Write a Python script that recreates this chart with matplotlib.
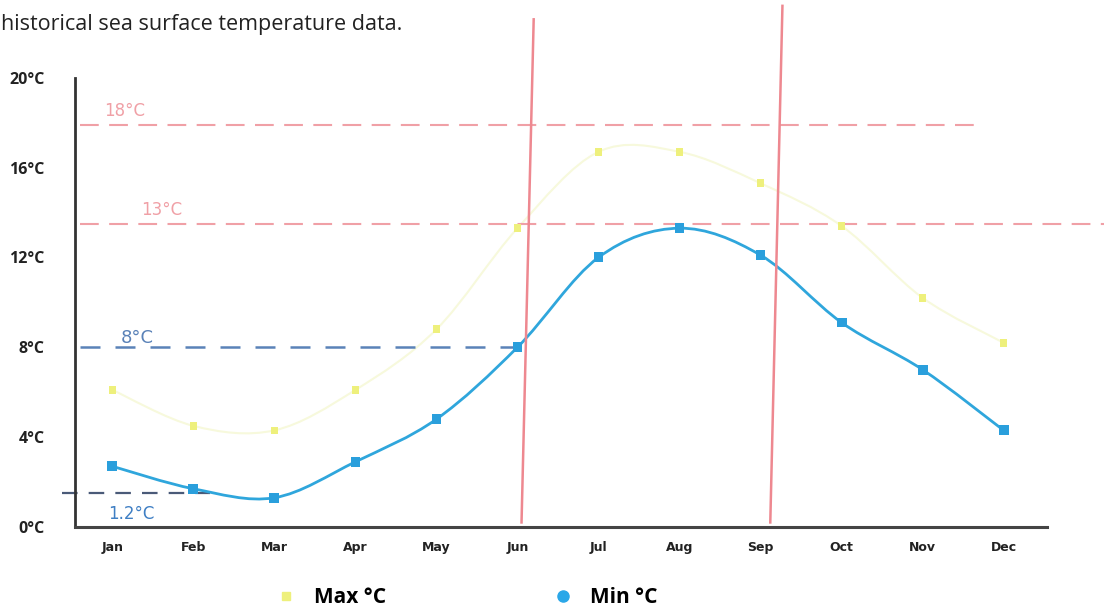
import numpy as np
import matplotlib
matplotlib.use("Agg")
import matplotlib.pyplot as plt
from matplotlib.path import Path
from matplotlib.patches import PathPatch
from matplotlib.lines import Line2D

# --- DATA ---
months = ["Jan", "Feb", "Mar", "Apr", "May", "Jun", "Jul", "Aug", "Sep", "Oct", "Nov", "Dec"]
max_temp = [6.1, 4.5, 4.3, 6.1, 8.8, 13.3, 16.7, 16.7, 15.3, 13.4, 10.2, 8.2]
min_temp = [2.7, 1.7, 1.3, 2.9, 4.8, 8.0, 12.0, 13.3, 12.1, 9.1, 7.0, 4.3]
y_ticks = [0, 4, 8, 12, 16, 20]
y_tick_labels = ["0°C", "4°C", "8°C", "12°C", "16°C", "20°C"]

# handwritten notes on the scan
note_levels = [17.9, 13.5, 8.0, 1.5]
note_labels = ["18°C", "13°C", "8°C", "1.2°C"]
note_months = [(5.2, 5.05), (8.27, 8.12)]   # slanted vertical pen lines (top, bottom)


def smooth_path(xs, ys, t=0.5):
    # catmull-rom style bezier through the points
    xs = np.asarray(xs, float)
    ys = np.asarray(ys, float)
    verts = [(xs[0], ys[0])]
    codes = [Path.MOVETO]
    n = len(xs)
    for i in range(n - 1):
        x0, y0 = (xs[i - 1], ys[i - 1]) if i > 0 else (xs[i], ys[i])
        x3, y3 = (xs[i + 2], ys[i + 2]) if i + 2 < n else (xs[i + 1], ys[i + 1])
        c1 = (xs[i] + (xs[i + 1] - x0) * t / 3, ys[i] + (ys[i + 1] - y0) * t / 3)
        c2 = (xs[i + 1] - (x3 - xs[i]) * t / 3, ys[i + 1] - (y3 - ys[i]) * t / 3)
        verts += [c1, c2, (xs[i + 1], ys[i + 1])]
        codes += [Path.CURVE4] * 3
    return Path(verts, codes)


fig = plt.figure(figsize=(11.04, 6.12), dpi=100)
ax = fig.add_axes([0.068, 0.139, 0.88, 0.734])
x = np.arange(len(months))

# lines
ax.add_patch(PathPatch(smooth_path(x, max_temp), fill=False, edgecolor="#f7f9dc", lw=1.5, zorder=2))
ax.add_patch(PathPatch(smooth_path(x, min_temp), fill=False, edgecolor="#2fa6dc", lw=2.0, zorder=3))
ax.scatter(x, max_temp, s=30, color="#eef07c", marker="s", zorder=4, edgecolors="none")
ax.scatter(x, min_temp, s=50, color="#2a9fdc", marker="s", zorder=5, edgecolors="none")

ax.set_xlim(-0.46, 11.53)
ax.set_ylim(0, 20)
ax.set_xticks(x)
ax.set_xticklabels(months, fontsize=9, fontweight="bold", family=["Liberation Sans Narrow", "DejaVu Sans"],
                   color="#222222")
ax.set_yticks(y_ticks)
ax.set_yticklabels(y_tick_labels, fontsize=11.5, fontweight="bold", family=["Open Sans", "DejaVu Sans"],
                   color="#222222")
ax.tick_params(length=0, pad=10)
ax.tick_params(axis="y", pad=22)
for side in ["top", "right"]:
    ax.spines[side].set_visible(False)
ax.spines["left"].set_linewidth(2)
ax.spines["bottom"].set_linewidth(2.2)
ax.spines["left"].set_color("#333333")
ax.spines["bottom"].set_color("#444444")

# handwritten notes
red = "#f0a0a6"
blue_pen = "#5a82b8"
ax.plot([-0.4, 10.7], [note_levels[0]] * 2, color=red, lw=1.5, dashes=(9, 5), clip_on=False)
ax.plot([-0.4, 12.25], [note_levels[1]] * 2, color=red, lw=1.5, dashes=(9, 5), clip_on=False)
ax.plot([-0.4, 5.05], [note_levels[2]] * 2, color=blue_pen, lw=1.8, dashes=(8, 6), clip_on=False)
ax.plot([-0.62, 1.2], [note_levels[3]] * 2, color="#4a5a78", lw=1.6, dashes=(7, 5), clip_on=False)
for top, bottom in note_months:
    ax.plot([top, bottom], [22.6 if top < 6 else 23.2, 0.2], color="#ee8890", lw=1.8, clip_on=False, zorder=6)

ax.text(-0.1, 18.3, note_labels[0], color=red, fontsize=12, family="DejaVu Sans")
ax.text(0.35, 13.9, note_labels[1], color=red, fontsize=12, family="DejaVu Sans")
ax.text(0.1, 8.2, note_labels[2], color=blue_pen, fontsize=13, family="DejaVu Sans")
ax.text(-0.05, 0.35, note_labels[3], color="#3f7fc4", fontsize=12, family="DejaVu Sans")

# caption fragment at top
fig.text(0.001, 0.951, "historical sea surface temperature data.", fontsize=15.5,
         family=["Open Sans", "DejaVu Sans"], color="#222222")

# legend
handles = [
    Line2D([], [], marker="s", color="#eef07c", linestyle="none", markersize=6),
    Line2D([], [], marker="o", color="#2aa7e8", linestyle="none", markersize=8),
]
fig.legend(handles, ["Max °C", "Min °C"], loc="center", bbox_to_anchor=(0.418, 0.023), ncol=2,
           frameon=False, columnspacing=7.5, handletextpad=0.3,
           prop={"size": 15, "weight": "bold", "family": ["Open Sans", "DejaVu Sans"]})

fig.savefig("out.png", dpi=100)
